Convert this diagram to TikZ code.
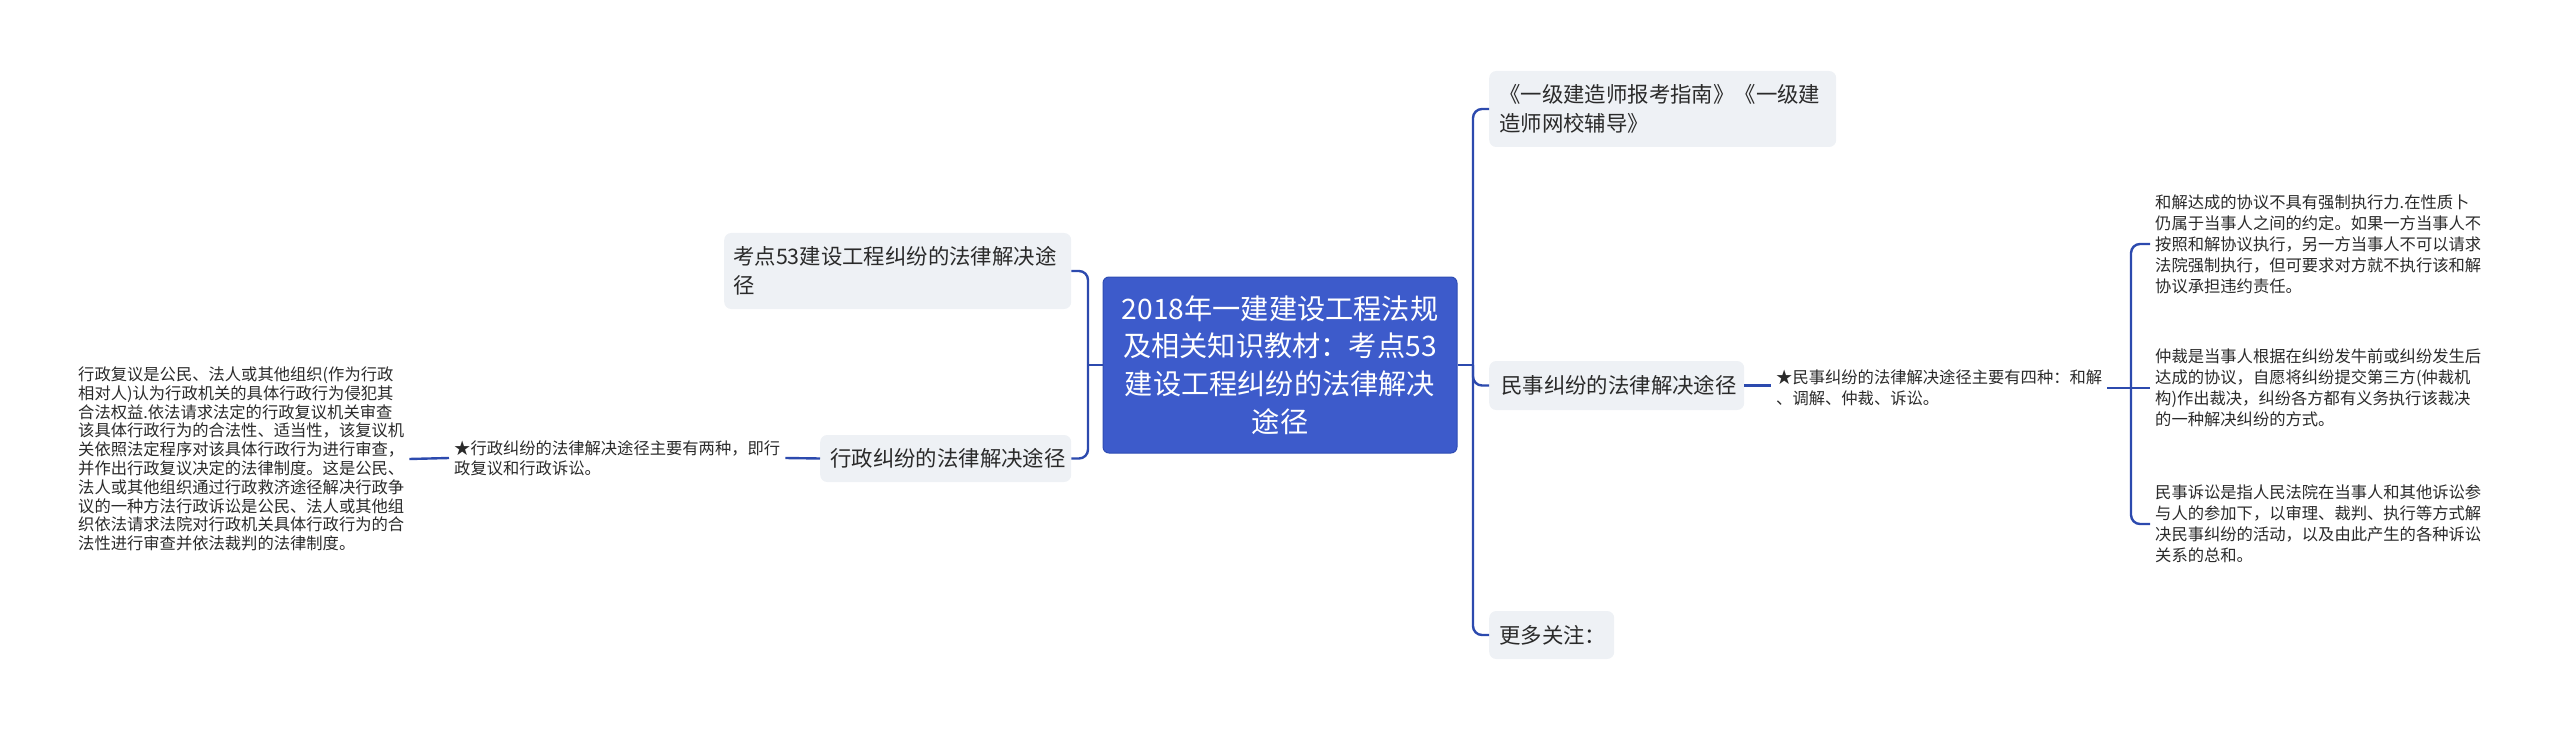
\documentclass[tikz,border=0pt]{standalone}
\usepackage{fontspec}
\setmainfont{Noto Sans CJK SC}
\definecolor{cblue}{HTML}{3D5BCB}
\definecolor{cborder}{HTML}{2E4CB3}
\definecolor{connc}{HTML}{2C4AAE}
\definecolor{lbox}{HTML}{EEF1F5}
\definecolor{txt}{HTML}{2A2A2A}
\tikzset{
  connline/.style={draw=connc, line width=2.4pt, rounded corners=9pt},
  mainbox/.style={fill=cblue, draw=cborder, line width=1pt, rounded corners=6pt, text=white, align=center, font=\fontsize{28.2}{37.6}\selectfont, minimum width=354pt, minimum height=176pt, inner sep=0pt},
  subbox/.style={fill=lbox, rounded corners=7pt, text=txt, align=left, font=\fontsize{21.4}{29}\selectfont, inner ysep=0pt, anchor=west},
  smalltext/.style={text=txt, align=left, font=\fontsize{16.3}{21}\selectfont, inner xsep=5pt, inner ysep=0pt, anchor=west},
}
\begin{document}
\begin{tikzpicture}[x=1pt,y=-1pt]
\useasboundingbox (0,0) rectangle (2560,730);

% central
\node[mainbox] (C) at (1280,365) {2018年一建建设工程法规\\及相关知识教材：考点53\\建设工程纠纷的法律解决\\途径};

% left branch
\node[subbox, text width=329pt, inner xsep=9pt, minimum height=76pt] (L1) at (724,271) {考点53建设工程纠纷的法律解决途\\径};
\node[subbox, text width=231pt, inner xsep=10pt, minimum height=47pt] (L2) at (820,458.5) {行政纠纷的法律解决途径};
\node[smalltext, font=\fontsize{16.3}{20}\selectfont] (LL3) at (449,458) {★行政纠纷的法律解决途径主要有两种，即行\\政复议和行政诉讼。};
\node[smalltext, font=\fontsize{16.3}{18.8}\selectfont] (LL4) at (73,459) {行政复议是公民、法人或其他组织(作为行政\\相对人)认为行政机关的具体行政行为侵犯其\\合法权益.依法请求法定的行政复议机关审查\\该具体行政行为的合法性、适当性，该复议机\\关依照法定程序对该具体行政行为进行审查，\\并作出行政复议决定的法律制度。这是公民、\\法人或其他组织通过行政救济途径解决行政争\\议的一种方法行政诉讼是公民、法人或其他组\\织依法请求法院对行政机关具体行政行为的合\\法性进行审查并依法裁判的法律制度。};

% right branch
\node[subbox, text width=327pt, inner xsep=10pt, minimum height=76pt] (R1) at (1489,109) {《一级建造师报考指南》《一级建\\造师网校辅导》};
\node[subbox, text width=231pt, inner xsep=12pt, minimum height=49pt] (R2) at (1489,385.5) {民事纠纷的法律解决途径};
\node[subbox, text width=105pt, inner xsep=10pt, minimum height=48pt] (R3) at (1489,635) {更多关注：};
\node[smalltext] (RL3) at (1771,388) {★民事纠纷的法律解决途径主要有四种：和解\\、调解、仲裁、诉讼。};
\node[smalltext] (T1) at (2150,244) {和解达成的协议不具有强制执行力.在性质卜\\仍属于当事人之间的约定。如果一方当事人不\\按照和解协议执行，另一方当事人不可以请求\\法院强制执行，但可要求对方就不执行该和解\\协议承担违约责任。};
\node[smalltext] (T2) at (2150,388) {仲裁是当事人根据在纠纷发牛前或纠纷发生后\\达成的协议，自愿将纠纷提交第三方(仲裁机\\构)作出裁决，纠纷各方都有义务执行该裁决\\的一种解决纠纷的方式。};
\node[smalltext] (T3) at (2150,524) {民事诉讼是指人民法院在当事人和其他诉讼参\\与人的参加下，以审理、裁判、执行等方式解\\决民事纠纷的活动，以及由此产生的各种诉讼\\关系的总和。};

% connectors left
\coordinate (bL) at (1088,365);
\draw[connline] (L1.east) -| (bL) |- (L2.east);
\draw[connline] (C.west) -- (bL);
\draw[connline] (L2.west) -- (LL3.east);
\draw[connline] (LL3.west) -- (LL4.east);

% connectors right
\coordinate (bR) at (1473,365);
\draw[connline] (R1.west) -| (bR) |- (R3.west);
\draw[connline] (C.east) -- (bR);
\draw[connline] (bR) |- (R2.west);
\draw[connline] (R2.east) -- (R2.east -| RL3.west);
\coordinate (bT) at (2131,388);
\draw[connline] (RL3.east) -- (bT);
\draw[connline] (T1.west) -| (bT) |- (T3.west);
\draw[connline] (bT) -- (T2.west);
\end{tikzpicture}
\end{document}
